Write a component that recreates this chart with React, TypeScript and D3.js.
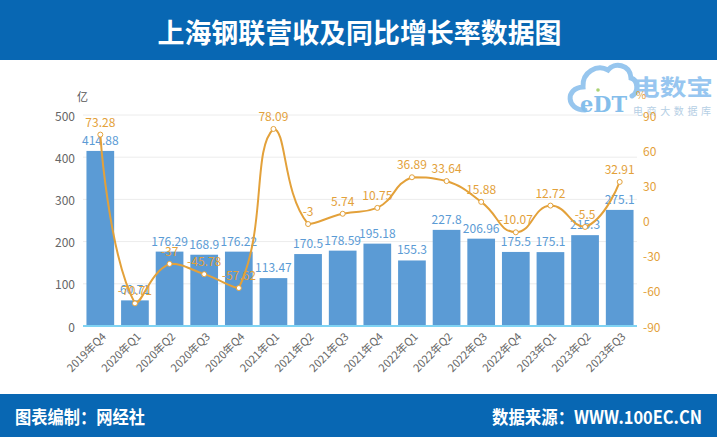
import React from "react";
import * as d3 from "d3";

const categories = ["2019年Q4","2020年Q1","2020年Q2","2020年Q3","2020年Q4","2021年Q1","2021年Q2","2021年Q3","2021年Q4","2022年Q1","2022年Q2","2022年Q3","2022年Q4","2023年Q1","2023年Q2","2023年Q3"];
const revenue = [414.88,60.71,176.29,168.9,176.22,113.47,170.5,178.59,195.18,155.3,227.8,206.96,175.5,175.1,215.3,275.1];
const growth = [73.28,-70.71,-37,-45.78,-57.62,78.09,-3,5.74,10.75,36.89,33.64,15.88,-10.07,12.72,-5.5,32.91];
const leftTicks = [0,100,200,300,400,500];
const rightTicks = [-90,-60,-30,0,30,60,90];

const W = 717, H = 437;
const BAR = "#5b9bd5";
const LINE = "#e3a13a";
const HEADER = "#0867b3";

function smoothPath(pts: [number, number][], s = 0.5): string {
  const n = pts.length;
  let d = `M${pts[0][0]},${pts[0][1]}`;
  let cp0x = pts[0][0], cp0y = pts[0][1];
  const clamp = (v: number, a: number, b: number) => Math.max(Math.min(a, b), Math.min(Math.max(a, b), v));
  for (let i = 1; i < n; i++) {
    const [x, y] = pts[i];
    const [px, py] = pts[i - 1];
    let cp1x = x, cp1y = y, ncx = x, ncy = y;
    if (i < n - 1) {
      const [nx, ny] = pts[i + 1];
      const vx = nx - px, vy = ny - py;
      const lp = Math.hypot(x - px, y - py), ln = Math.hypot(nx - x, ny - y);
      const r = ln / (ln + lp);
      cp1x = clamp(x - vx * s * (1 - r), x, px);
      cp1y = clamp(y - vy * s * (1 - r), y, py);
      ncx = clamp(x + vx * s * r, x, nx);
      ncy = clamp(y + vy * s * r, y, ny);
    }
    d += `C${cp0x},${cp0y},${cp1x},${cp1y},${x},${y}`;
    cp0x = ncx; cp0y = ncy;
  }
  return d;
}

export default function App() {
  const left = 83, right = 637, top = 115, bottom = 326;
  const x = d3.scaleBand<string>().domain(categories).range([left, right]).paddingInner(0.2).paddingOuter(0.1);
  const yL = d3.scaleLinear().domain([0, 500]).range([bottom, top]);
  const yR = d3.scaleLinear().domain([-90, 90]).range([bottom, top]);
  const cx = (c: string) => (x(c) as number) + x.bandwidth() / 2;
  const pts: [number, number][] = categories.map((c, i) => [cx(c), yR(growth[i])]);
  const font = "'Microsoft YaHei','Noto Sans CJK SC','Noto Sans',sans-serif";

  return (
    <svg width={W} height={H} style={{ position: "absolute", left: 0, top: 0, display: "block" }} fontFamily={font}>
      <rect x={0} y={0} width={W} height={H} fill="#fff" />
      <rect x={0} y={0} width={W} height={60} fill={HEADER} />
      <text x={W / 2 + 1} y={31} textAnchor="middle" dominantBaseline="central" fill="#fff" fontSize={27} fontWeight="bold" fontFamily="'Noto Sans CJK SC',sans-serif" textLength={404} lengthAdjust="spacingAndGlyphs">上海钢联营收及同比增长率数据图</text>
      <rect x={0} y={394} width={W} height={43} fill={HEADER} />
      <text x={15} y={416} dominantBaseline="central" fill="#fff" fontSize={18} fontWeight="bold" textLength={130} lengthAdjust="spacingAndGlyphs">图表编制：网经社</text>
      <text x={492} y={416} dominantBaseline="central" fill="#fff" fontSize={18} fontWeight="bold" textLength={210} lengthAdjust="spacingAndGlyphs">数据来源：WWW.100EC.CN</text>

      {/* logo */}
      <g opacity={0.85}>
        <path d="M585,110 C566,110 565,88 583,87 C582,72 597,64 608,70 C614,62 630,64 631,78 C638,80 639,92 632,96" fill="none" stroke="#86bdec" strokeWidth={5} strokeLinecap="round" />
        <text x={580} y={112} fill="#6fb3e8" fontSize={22} fontWeight="bold" fontFamily="'DejaVu Serif',serif" textLength={47} lengthAdjust="spacingAndGlyphs">eDT</text>
        <circle cx={598} cy={90} r={1.8} fill="#9ccb5c" />
        <text x={633} y={95} fill="#86bdee" fontSize={22} fontWeight="bold" textLength={80} lengthAdjust="spacingAndGlyphs">电数宝</text>
        <text x={633} y={110} fill="#a9c7df" fontSize={10} dominantBaseline="central" textLength={78} lengthAdjust="spacing">电商大数据库</text>
      </g>

      {/* grid */}
      {leftTicks.map(t => (
        <line key={"g" + t} x1={left} x2={right} y1={yL(t)} y2={yL(t)} stroke="#ececec" strokeWidth={1} />
      ))}
      {leftTicks.map(t => (
        <text key={"l" + t} x={75} y={yL(t)} textAnchor="end" dominantBaseline="central" fontSize={12} fill="#666">{t}</text>
      ))}
      {rightTicks.map(t => (
        <text key={"r" + t} x={643} y={yR(t)} dominantBaseline="central" fontSize={12} fill={LINE}>{t}</text>
      ))}
      <text x={77} y={96} fontSize={11} fill="#555" dominantBaseline="central">亿</text>
      <text x={636} y={94} fontSize={11} fill={LINE} dominantBaseline="central">%</text>

      {/* bars */}
      {categories.map((c, i) => (
        <rect key={"b" + c} x={x(c)} y={yL(revenue[i])} width={x.bandwidth()} height={yL(0) - yL(revenue[i])} fill={BAR} />
      ))}
      <line x1={left} x2={right} y1={bottom} y2={bottom} stroke="#7fd3f3" strokeWidth={2} />
      {categories.map(c => (
        <text key={"x" + c} transform={`translate(${cx(c) + 3},${bottom + 8}) rotate(-45)`} textAnchor="end" dominantBaseline="central" fontSize={11} fill="#666">{c}</text>
      ))}
      {categories.map((c, i) => (
        <text key={"bl" + c} x={cx(c)} y={yL(revenue[i]) - 6} textAnchor="middle" fontSize={12} fill={BAR}>{revenue[i]}</text>
      ))}

      {/* line */}
      <path d={smoothPath(pts)} fill="none" stroke={LINE} strokeWidth={2} />
      {pts.map((p, i) => (
        <circle key={"p" + i} cx={p[0]} cy={p[1]} r={2.5} fill="#fff" stroke={LINE} strokeWidth={1} />
      ))}
      {pts.map((p, i) => (
        <text key={"pl" + i} x={p[0]} y={p[1] - 8} textAnchor="middle" fontSize={12} fill={LINE}>{growth[i]}</text>
      ))}
    </svg>
  );
}
